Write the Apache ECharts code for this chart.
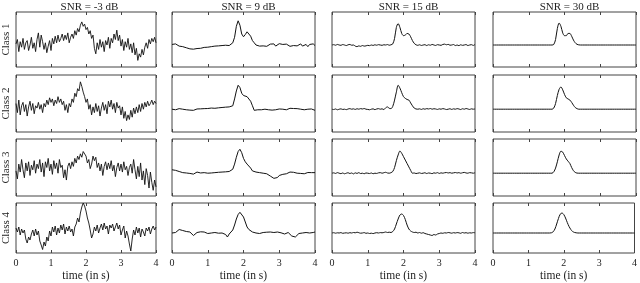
<!DOCTYPE html>
<html>
<head>
<meta charset="utf-8">
<script src="https://cdn.jsdelivr.net/npm/echarts@6/dist/echarts.min.js"></script>
<style>html,body{margin:0;padding:0;background:#fff}#c{width:640px;height:283px}</style>
</head>
<body>
<div id="c"></div>
<script>
const snrTitles = ['SNR = -3 dB', 'SNR = 9 dB', 'SNR = 15 dB', 'SNR = 30 dB'];
const classLabels = ['Class 1', 'Class 2', 'Class 3', 'Class 4'];
const xTicks = [0, 1, 2, 3, 4];

// SNR = -3 dB (101 samples over 0..4 s)
const snrM3_class1 = [0.1,0.5,-0.6,0.3,-0.2,0.6,-0.4,0.2,0.4,-0.5, 0.0,0.7,-0.3,0.2,-0.6,0.5,1.1,-0.2,0.9,0.3, -0.4,0.2,-0.7,-0.1,0.4,-0.5,0.6,0.1,0.8,0.2, 0.9,0.3,0.6,1.0,0.4,0.9,0.5,1.1,0.2,0.7, 1.0,0.6,1.3,0.9,1.5,1.2,1.8,2.1,1.7,1.9, 1.4,1.6,1.0,1.3,0.6,0.9,-0.3,-0.8,0.2,-0.4, 0.5,-0.2,0.3,-0.6,0.4,0.0,0.7,-0.3,0.6,0.2, 1.0,0.5,1.35,0.4,0.9,-0.1,0.5,-0.5,0.3,-0.2, 0.6,-0.4,0.1,-0.7,0.2,-0.9,-0.3,-1.4,-0.8,-1.1, -0.4,-0.9,-0.2,0.2,-0.3,0.5,0.1,0.6,0.3,0.7, 0.2];
const snrM3_class2 = [0.5,-0.3,0.8,-0.5,0.3,0.6,-0.2,0.4,-0.6,0.2, 0.7,-0.1,0.5,-0.4,0.3,0.1,0.6,0.0,0.4,-0.3, 0.5,0.2,0.8,0.4,1.0,0.6,0.9,0.3,0.8,0.5, 1.1,0.6,0.9,0.4,0.7,-0.1,0.4,-0.3,0.5,0.2, 0.9,0.6,1.4,1.1,1.8,1.6,2.4,2.0,1.5,1.1, 0.6,0.9,0.0,0.4,-0.5,0.2,-0.3,0.5,-0.2,0.3, -0.6,0.1,0.6,-0.1,0.4,-0.4,0.7,0.2,0.8,0.0, 0.5,-0.3,0.6,0.1,0.3,-0.5,0.2,-0.8,-0.2,-1.0, -0.5,-0.9,-0.1,-0.7,0.1,-0.4,0.2,-0.3,0.4,-0.2, 0.5,0.0,0.6,0.2,0.7,0.3,0.5,0.8,0.4,0.7, 0.5];
const snrM3_class3 = [0.2,-0.5,0.8,0.1,1.2,0.3,-0.4,0.9,0.2,1.0, -0.2,0.7,0.3,1.1,0.0,0.8,0.4,1.2,0.1,0.9, -0.3,1.0,0.5,1.3,0.2,0.8,-0.1,1.1,0.4,0.9, 0.0,1.2,0.5,0.7,-0.4,0.3,-0.6,0.6,0.9,0.4, 1.0,0.6,1.3,0.9,1.5,1.2,1.7,1.4,1.9,2.0, 1.5,0.9,1.2,0.4,0.8,1.5,1.1,1.4,0.5,0.9, 0.2,0.8,-0.2,0.6,1.0,0.3,0.9,0.4,1.1,0.2, 0.7,-0.3,0.5,0.9,0.2,0.8,0.1,1.0,0.3,0.6, -0.2,0.5,0.8,0.0,1.2,0.3,-0.5,0.6,-0.3,0.9, -0.6,0.2,-1.0,0.4,-0.2,-1.3,0.1,-0.8,-1.5,-0.6, -1.2];
const snrM3_class4 = [0.5,0.1,0.6,-0.2,0.4,0.0,0.3,-0.6,-1.0,-0.4, -0.7,-0.1,0.3,-0.3,0.4,-0.2,0.2,-0.8,-1.2,-1.65, -0.9,-1.3,-0.4,-0.8,0.2,-0.3,0.6,0.1,0.7,-0.2, 0.5,0.0,0.8,0.3,0.9,-0.1,0.6,0.2,0.7,0.1, 0.4,-0.3,0.6,0.9,1.5,1.1,2.0,2.6,3.0,2.7, 2.2,1.5,1.0,0.3,-0.5,-0.1,0.6,0.2,0.8,0.0, 0.5,0.9,0.3,1.0,0.4,0.7,-0.1,0.8,0.5,0.9, 0.2,0.6,1.0,0.4,0.8,-0.2,0.3,0.7,-0.5,0.2, -0.3,-1.1,-1.8,-0.6,0.3,-0.2,0.6,0.0,0.5,-0.4, 0.4,0.1,-0.3,0.5,0.2,0.6,-0.1,0.4,0.7,0.3, 0.6];

// SNR = 9 dB (81 samples)
const snr9_class1 = [0.05,-0.05,0.1,0.0,-0.1,-0.05,-0.15,-0.2,-0.25,-0.3, -0.35,-0.3,-0.38,-0.3,-0.32,-0.25,-0.3,-0.2,-0.22,-0.15, -0.2,-0.1,-0.15,-0.05,-0.1,-0.02,-0.08,0.0,-0.05,0.05, -0.02,0.0,-0.05,0.05,0.2,0.7,1.7,2.2,1.8,1.0, 0.75,0.95,1.2,1.1,0.8,0.4,0.2,0.0,0.05,-0.1, 0.0,-0.08,0.05,-0.12,-0.02,0.08,-0.05,0.1,-0.1,0.0, 0.12,-0.05,0.05,-0.1,0.08,0.0,-0.12,0.05,-0.05,0.1, -0.08,0.02,0.1,-0.1,0.0,0.05,-0.15,0.05,-0.05,0.1, -0.05];
const snr9_class2 = [0.0,0.05,-0.05,0.1,0.05,0.12,0.0,0.08,-0.05,0.02, -0.08,0.0,-0.1,-0.05,0.02,-0.06,0.03,-0.02,0.05,0.0, 0.06,0.02,0.1,0.05,0.08,0.03,0.12,0.08,0.15,0.1, 0.18,0.12,0.2,0.15,0.3,0.9,1.6,2.1,1.9,1.4, 1.2,1.15,1.1,0.95,0.7,0.3,-0.1,-0.15,-0.05,-0.12, -0.05,-0.1,0.0,-0.12,-0.05,0.05,-0.08,0.0,-0.05,0.05, 0.02,0.08,0.0,0.05,-0.05,0.03,0.08,0.0,0.06,-0.02, 0.05,0.1,0.0,0.06,-0.05,0.08,0.0,-0.06,0.02,-0.12, -0.1];
const snr9_class3 = [0.3,0.2,0.25,0.1,0.15,0.0,0.05,-0.05,0.02,0.1, -0.02,0.05,-0.08,0.0,0.1,-0.05,0.02,-0.1,0.05,0.12, 0.0,0.08,0.02,0.1,0.05,0.0,0.08,0.03,0.1,0.05, 0.12,0.08,0.15,0.2,0.35,0.8,1.4,1.9,2.1,1.8, 1.3,1.0,0.8,0.7,0.45,0.2,0.15,0.1,0.2,0.05, 0.12,0.0,-0.1,-0.05,-0.2,-0.25,-0.35,-0.45,-0.3,-0.38, -0.2,-0.25,-0.1,-0.15,-0.05,0.05,0.1,0.0,0.08,-0.05, 0.0,-0.08,-0.02,0.05,-0.05,0.02,0.06,0.0,0.05,0.1, 0.05];
const snr9_class4 = [0.0,0.1,0.05,0.2,0.35,0.15,0.25,0.05,0.15,0.0, 0.1,-0.1,-0.25,-0.1,0.05,-0.05,0.12,0.0,0.1,0.05, -0.05,0.08,0.0,0.12,0.05,0.15,-0.02,0.08,0.0,0.05, -0.15,-0.4,-0.1,0.1,0.3,0.8,1.4,1.85,2.07,2.0, 1.6,1.1,0.6,0.35,0.25,0.1,0.05,0.0,0.05,-0.05, 0.0,0.05,-0.02,0.08,0.0,0.1,-0.05,0.05,0.0,0.1, -0.05,0.02,0.1,-0.1,-0.2,0.05,-0.15,-0.3,-0.1,-0.4, -0.2,-0.05,-0.2,0.0,-0.1,0.05,0.1,0.0,0.15,0.05, 0.1];

// SNR = 15 dB (81 samples)
const snr15_class1 = [0.0,0.03,-0.02,0.05,0.0,-0.03,0.04,0.0,-0.05,0.02, 0.05,-0.02,0.0,-0.1,-0.15,-0.08,-0.12,-0.05,-0.1,-0.08, -0.03,-0.06,0.0,-0.04,0.02,-0.02,0.03,0.0,-0.03,0.02, 0.0,0.04,-0.02,0.02,0.1,0.6,1.6,1.95,1.6,1.05, 0.85,0.9,1.05,1.0,0.75,0.4,0.15,0.02,-0.03,0.02, -0.04,0.0,0.03,-0.05,0.02,-0.02,0.05,0.0,-0.04,0.03, 0.0,-0.03,0.05,0.08,0.02,0.06,-0.02,0.0,0.04,-0.05, 0.0,-0.06,0.02,-0.03,0.0,0.04,-0.05,0.0,0.03,-0.04, 0.05];
const snr15_class2 = [0.0,-0.03,0.02,-0.05,0.0,0.03,-0.02,0.0,-0.04,0.02, 0.05,0.0,0.03,-0.02,0.04,0.0,0.05,0.02,0.06,0.0, -0.02,-0.05,0.0,0.03,-0.04,0.02,0.05,0.0,0.03,-0.03, 0.12,0.2,0.08,0.05,0.25,0.8,1.5,2.1,1.85,1.45, 1.1,0.95,0.85,0.8,0.55,0.3,0.1,0.02,0.0,0.03, -0.02,0.04,0.0,0.05,0.02,0.06,0.0,0.04,0.02,-0.02, 0.03,0.0,0.05,0.02,-0.03,0.0,0.04,-0.02,0.03,0.0, 0.05,0.02,-0.03,0.04,0.0,0.06,0.02,-0.02,0.03,0.0, 0.02];
const snr15_class3 = [0.0,0.03,-0.02,0.05,0.0,-0.04,0.02,-0.05,0.0,0.04, -0.03,0.02,-0.06,0.03,-0.02,0.05,-0.03,0.0,-0.05,0.02, 0.0,-0.03,0.02,-0.05,0.0,-0.02,0.03,0.05,0.0,0.04, 0.08,0.02,0.0,0.05,0.15,0.5,1.1,1.6,1.95,1.75, 1.45,1.15,0.85,0.55,0.25,0.0,0.02,-0.03,0.0,0.03, -0.02,0.0,0.04,-0.03,0.02,0.0,-0.04,0.03,0.0,0.05, -0.02,0.03,0.0,0.04,0.06,0.02,0.05,0.0,0.03,0.06, 0.02,0.05,0.0,0.04,0.07,0.02,0.0,0.05,0.03,0.0, 0.04];
const snr15_class4 = [0.0,0.03,-0.02,0.02,0.0,0.04,-0.03,0.0,0.02,-0.02, 0.03,0.0,0.05,0.02,0.08,0.03,-0.02,0.0,0.04,-0.03, 0.0,-0.05,-0.02,-0.06,0.0,0.03,0.0,0.04,0.02,0.05, 0.1,0.05,0.08,0.05,0.15,0.4,0.9,1.4,1.8,1.9, 1.75,1.35,0.8,0.4,0.2,0.1,0.05,0.08,0.0,0.05, -0.02,0.03,-0.05,-0.1,-0.15,-0.2,-0.25,-0.15,-0.2,-0.1, -0.05,0.0,-0.03,0.02,0.0,0.05,0.02,-0.02,0.03,0.0, 0.04,0.02,-0.03,0.05,0.0,0.03,-0.02,0.02,0.0,0.04, 0.02];

// SNR = 30 dB (81 samples)
const snr30_class1 = [0,0,0,0,0,0,0,0,0,0, 0,0,0,0,0,0,0,0,0,0, 0,0,0,0,0,0,0,0,0,0, 0,0,0,0,0.05,0.5,1.5,2.0,1.7,1.1, 0.85,0.85,1.05,1.05,0.8,0.45,0.2,0.06,0.01,0, 0,0,0,0,0,0,0,0,0,0, 0,0,0,0,0,0,0,0,0,0, 0,0,0,0,0,0,0,0,0,0, 0];
const snr30_class2 = [0,0,0,0,0,0,0,0,0,0, 0,0,0,0,0,0,0,0,0,0, 0,0,0,0,0,0,0,0,0,0, 0,0,0,0,0.1,0.5,1.2,1.75,1.95,1.7, 1.3,1.0,0.9,0.8,0.6,0.35,0.15,0.05,0,0, 0,0,0,0,0,0,0,0,0,0, 0,0,0,0,0,0,0,0,0,0, 0,0,0,0,0,0,0,0,0,0, 0];
const snr30_class3 = [0,0,0,0,0,0,0,0,0,0, 0,0,0,0,0,0,0,0,0,0, 0,0,0,0,0,0,0,0,0,0, 0,0,0,0,0.12,0.45,1.0,1.6,1.93,1.85, 1.55,1.25,1.05,0.85,0.5,0.22,0.07,0.01,0,0, 0,0,0,0,0,0,0,0,0,0, 0,0,0,0,0,0,0,0,0,0, 0,0,0,0,0,0,0,0,0,0, 0];
const snr30_class4 = [0,0,0,0,0,0,0,0,0,0, 0,0,0,0,0,0,0,0,0,0, 0,0,0,0,0,0,0,0,0,0, 0,0,0,0.02,0.12,0.4,0.9,1.45,1.88,2.0, 1.85,1.5,1.05,0.65,0.35,0.15,0.06,0.02,0,0, 0,0,0,0,0,0,0,0,0,0, 0,0,0,0,0,0,0,0,0,0, 0,0,0,0,0,0,0,0,0,0, 0];

const panels = [
  [snrM3_class1, snr9_class1, snr15_class1, snr30_class1],
  [snrM3_class2, snr9_class2, snr15_class2, snr30_class2],
  [snrM3_class3, snr9_class3, snr15_class3, snr30_class3],
  [snrM3_class4, snr9_class4, snr15_class4, snr30_class4]
];

const colLeft = [13, 172, 332, 493];
const colWidth = 143;
const rowTop = [12, 75, 139, 203];
const rowHeight = [55, 57, 57, 57];
const FONT = 'Liberation Serif';

const grid = [], xAxis = [], yAxis = [], series = [], title = [];
function pairs(arr) { return arr.map((v, i) => [4 * i / (arr.length - 1), v]); }

for (let r = 0; r < 4; r++) {
  for (let c = 0; c < 4; c++) {
    const gi = grid.length;
    grid.push({left: colLeft[c], top: rowTop[r], width: colWidth, height: rowHeight[r],
      show: true, borderColor: '#444', borderWidth: 1, backgroundColor: 'transparent'});
    const isBottom = r === 3;
    xAxis.push({type: 'value', gridIndex: gi, min: 0, max: 4, interval: 1, position: 'bottom',
      axisLine: {show: false, onZero: false},
      axisTick: {show: true, inside: true, length: 3, lineStyle: {color: '#444'}},
      splitLine: {show: false},
      axisLabel: {show: isBottom, fontFamily: FONT, fontSize: 10, color: '#222', margin: 5,
        formatter: v => xTicks.includes(v) ? String(v) : ''},
      name: isBottom ? 'time (in s)' : '', nameLocation: 'middle', nameGap: 17,
      nameTextStyle: {fontFamily: FONT, fontSize: 11.5, color: '#222'}});
    xAxis.push({type: 'value', gridIndex: gi, min: 0, max: 4, interval: 1, position: 'top',
      axisLine: {show: false, onZero: false},
      axisTick: {show: true, inside: true, length: 3, lineStyle: {color: '#444'}},
      splitLine: {show: false}, axisLabel: {show: false}});
    yAxis.push({type: 'value', gridIndex: gi, min: -2, max: 3,
      axisLine: {show: false, onZero: false}, axisTick: {show: false}, axisLabel: {show: false}, splitLine: {show: false},
      name: c === 0 ? classLabels[r] : '', nameLocation: 'middle', nameRotate: 90, nameGap: 4,
      nameTextStyle: {fontFamily: FONT, fontSize: 11, color: '#222'}});
    series.push({type: 'line', xAxisIndex: gi * 2, yAxisIndex: gi, data: pairs(panels[r][c]),
      showSymbol: false, smooth: c >= 2 ? 0.3 : false, clip: true,
      lineStyle: {color: '#111', width: c === 0 ? 0.9 : 1}, silent: true, animation: false});
  }
}
for (let c = 0; c < 4; c++) {
  title.push({text: snrTitles[c], left: colLeft[c] + colWidth / 2, top: -3, textAlign: 'center',
    textStyle: {fontFamily: FONT, fontSize: 11, fontWeight: 'normal', color: '#222'}});
}

const chart = echarts.init(document.getElementById('c'), null, {renderer: 'canvas'});
chart.setOption({animation: false, title, grid, xAxis, yAxis, series});
</script>
</body>
</html>
